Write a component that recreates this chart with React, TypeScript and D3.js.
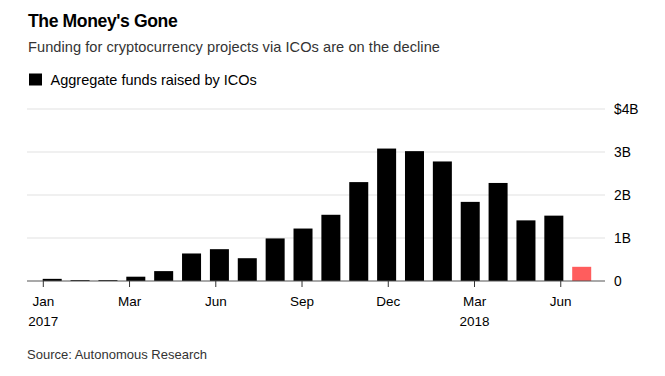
import React, { useEffect } from "react";
import * as d3 from "d3";

const months = ["Jan 2017","Feb 2017","Mar 2017","Apr 2017","May 2017","Jun 2017","Jul 2017","Aug 2017","Sep 2017","Oct 2017","Nov 2017","Dec 2017","Jan 2018","Feb 2018","Mar 2018","Apr 2018","May 2018","Jun 2018","Jul 2018","Aug 2018"];
const funds = [0.05,0.02,0.02,0.1,0.23,0.64,0.74,0.53,0.99,1.22,1.54,2.30,3.08,3.02,2.78,1.84,2.28,1.41,1.52,0.33];
const highlighted = [false,false,false,false,false,false,false,false,false,false,false,false,false,false,false,false,false,false,false,true];
const tickIndex = [0,3,6,9,12,15,18];
const tickLabels = ["Jan","Mar","Jun","Sep","Dec","Mar","Jun"];
const yearLabels = ["2017","","","","","2018",""];
const yTicks = [0,1,2,3,4];
const yTickLabels = ["0","1B","2B","3B","$4B"];

const W = 665, H = 376;
const FONT = "'Liberation Sans', Arial, sans-serif";

export default function App() {
  useEffect(() => { document.body.style.margin = "0"; }, []);
  const y = d3.scaleLinear().domain([0, 4]).range([281, 109]);
  const x = d3.scaleBand<string>().domain(months).range([42.7, 591.2]).paddingInner(0.318).paddingOuter(0);
  const xt = d3.scaleLinear().domain([0, months.length - 1]).range([43.3, 589.5]);
  return (
    <svg width={W} height={H} style={{ display: "block", fontFamily: FONT }}>
      <rect width={W} height={H} fill="#fff" />
      <text x={28} y={26.5} fontSize={17.6} fontWeight="bold" fill="#000" letterSpacing={-0.4}>The Money's Gone</text>
      <text x={28} y={52} fontSize={14.6} fill="#333" letterSpacing={0.05}>Funding for cryptocurrency projects via ICOs are on the decline</text>
      <rect x={29} y={73.5} width={13} height={12} fill="#000" />
      <text x={50.5} y={85} fontSize={14.5} fill="#000">Aggregate funds raised by ICOs</text>
      {yTicks.map((t, i) => (
        <g key={t}>
          {t > 0 && <line x1={27} x2={605} y1={y(t)} y2={y(t)} stroke="#e2e2e2" strokeWidth={1.2} />}
          <text x={614} y={y(t) + 5} fontSize={13.8} fill="#000">{yTickLabels[i]}</text>
        </g>
      ))}
      {funds.map((v, i) => (
        <rect key={months[i]} x={x(months[i])} y={y(v)} width={x.bandwidth()} height={y(0) - y(v)} fill={highlighted[i] ? "#ff5d5d" : "#000"} />
      ))}
      <line x1={27} x2={605} y1={y(0)} y2={y(0)} stroke="#555" strokeWidth={1.2} />
      {tickIndex.map((ti, i) => (
        <g key={i} transform={`translate(${xt(ti)},0)`}>
          <line y1={y(0)} y2={y(0) + 6} stroke="#333" strokeWidth={1} />
          <text y={305.5} fontSize={13.5} textAnchor="middle" fill="#000">{tickLabels[i]}</text>
          {yearLabels[i] && <text y={325.5} fontSize={13.5} textAnchor="middle" fill="#000">{yearLabels[i]}</text>}
        </g>
      ))}
      <text x={27} y={358.5} fontSize={13} fill="#333">Source: Autonomous Research</text>
    </svg>
  );
}
